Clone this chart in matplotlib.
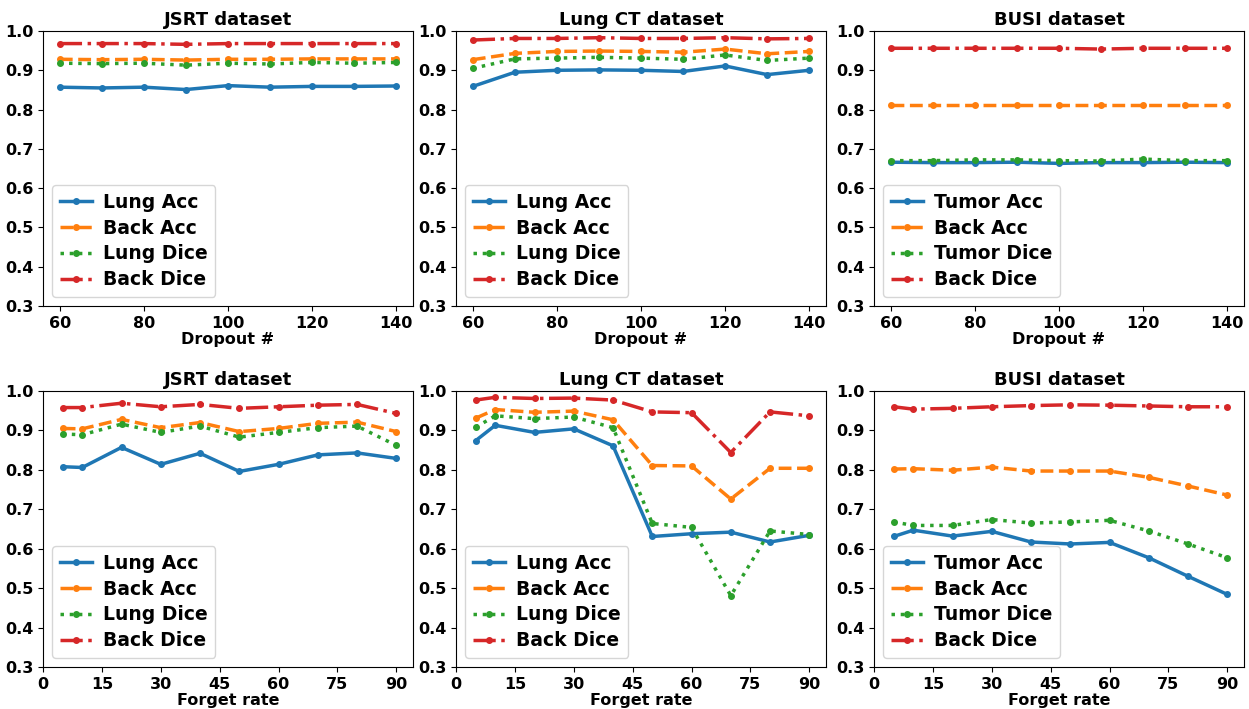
import matplotlib
matplotlib.use("Agg")
import matplotlib.pyplot as plt

plt.rcParams['font.family'] = ['DejaVu Sans']
plt.rcParams['font.weight'] = 'bold'
plt.rcParams['axes.labelweight'] = 'bold'
plt.rcParams['axes.titleweight'] = 'bold'

dropout = [60, 70, 80, 90, 100, 110, 120, 130, 140]
forget = [5, 10, 20, 30, 40, 50, 60, 70, 80, 90]

# Top row: Dropout #
jsrt_d_lung_acc = [0.857, 0.855, 0.857, 0.851, 0.861, 0.857, 0.859, 0.859, 0.860]
jsrt_d_back_acc = [0.928, 0.927, 0.928, 0.926, 0.928, 0.928, 0.929, 0.929, 0.929]
jsrt_d_lung_dice = [0.918, 0.917, 0.918, 0.913, 0.918, 0.916, 0.920, 0.918, 0.920]
jsrt_d_back_dice = [0.968, 0.968, 0.968, 0.966, 0.968, 0.968, 0.968, 0.968, 0.968]

ct_d_lung_acc = [0.859, 0.895, 0.900, 0.901, 0.900, 0.897, 0.911, 0.889, 0.900]
ct_d_back_acc = [0.927, 0.943, 0.948, 0.949, 0.948, 0.946, 0.954, 0.942, 0.948]
ct_d_lung_dice = [0.905, 0.929, 0.931, 0.933, 0.931, 0.928, 0.939, 0.925, 0.931]
ct_d_back_dice = [0.977, 0.981, 0.981, 0.983, 0.981, 0.981, 0.983, 0.980, 0.981]

busi_d_tumor_acc = [0.666, 0.665, 0.665, 0.666, 0.663, 0.665, 0.665, 0.666, 0.665]
busi_d_back_acc = [0.812, 0.812, 0.812, 0.812, 0.812, 0.812, 0.812, 0.812, 0.812]
busi_d_tumor_dice = [0.670, 0.670, 0.672, 0.672, 0.670, 0.669, 0.674, 0.670, 0.670]
busi_d_back_dice = [0.956, 0.956, 0.956, 0.956, 0.956, 0.954, 0.956, 0.956, 0.956]

# Bottom row: Forget rate
jsrt_f_lung_acc = [0.808, 0.806, 0.857, 0.814, 0.842, 0.796, 0.814, 0.838, 0.843, 0.829]
jsrt_f_back_acc = [0.905, 0.904, 0.928, 0.907, 0.920, 0.897, 0.905, 0.918, 0.921, 0.897]
jsrt_f_lung_dice = [0.891, 0.889, 0.916, 0.895, 0.911, 0.883, 0.895, 0.907, 0.911, 0.862]
jsrt_f_back_dice = [0.958, 0.958, 0.969, 0.960, 0.966, 0.956, 0.960, 0.964, 0.966, 0.943]

ct_f_lung_acc = [0.874, 0.913, 0.895, 0.904, 0.861, 0.631, 0.638, 0.642, 0.617, 0.634]
ct_f_back_acc = [0.931, 0.953, 0.946, 0.949, 0.927, 0.811, 0.810, 0.726, 0.804, 0.804]
ct_f_lung_dice = [0.908, 0.937, 0.930, 0.934, 0.907, 0.664, 0.654, 0.481, 0.645, 0.636]
ct_f_back_dice = [0.977, 0.984, 0.981, 0.982, 0.977, 0.947, 0.945, 0.844, 0.947, 0.937]

busi_f_tumor_acc = [0.631, 0.647, 0.632, 0.644, 0.617, 0.612, 0.616, 0.577, 0.530, 0.484]
busi_f_back_acc = [0.802, 0.803, 0.799, 0.807, 0.797, 0.797, 0.797, 0.781, 0.759, 0.736]
busi_f_tumor_dice = [0.668, 0.659, 0.659, 0.674, 0.665, 0.668, 0.672, 0.645, 0.612, 0.577]
busi_f_back_dice = [0.960, 0.954, 0.956, 0.960, 0.963, 0.965, 0.964, 0.962, 0.960, 0.960]

lung_labels = ['Lung Acc', 'Back Acc', 'Lung Dice', 'Back Dice']
tumor_labels = ['Tumor Acc', 'Back Acc', 'Tumor Dice', 'Back Dice']

W, H = 1249, 709
fig = plt.figure(figsize=(W / 100, H / 100), dpi=100)

lefts = [43, 456, 874]
width = 370
rows = [(31, 306), (391, 667)]

panels = [
    (0, 0, 'JSRT dataset', dropout, [jsrt_d_lung_acc, jsrt_d_back_acc, jsrt_d_lung_dice, jsrt_d_back_dice], lung_labels, 'Dropout #'),
    (0, 1, 'Lung CT dataset', dropout, [ct_d_lung_acc, ct_d_back_acc, ct_d_lung_dice, ct_d_back_dice], lung_labels, 'Dropout #'),
    (0, 2, 'BUSI dataset', dropout, [busi_d_tumor_acc, busi_d_back_acc, busi_d_tumor_dice, busi_d_back_dice], tumor_labels, 'Dropout #'),
    (1, 0, 'JSRT dataset', forget, [jsrt_f_lung_acc, jsrt_f_back_acc, jsrt_f_lung_dice, jsrt_f_back_dice], lung_labels, 'Forget rate'),
    (1, 1, 'Lung CT dataset', forget, [ct_f_lung_acc, ct_f_back_acc, ct_f_lung_dice, ct_f_back_dice], lung_labels, 'Forget rate'),
    (1, 2, 'BUSI dataset', forget, [busi_f_tumor_acc, busi_f_back_acc, busi_f_tumor_dice, busi_f_back_dice], tumor_labels, 'Forget rate'),
]

colors = ['#1f77b4', '#ff7f0e', '#2ca02c', '#d62728']
styles = ['-', '--', ':', '-.']

for r, c, title, x, series, labels, xlabel in panels:
    top, bot = rows[r]
    ax = fig.add_axes([lefts[c] / W, 1 - bot / H, width / W, (bot - top) / H])
    for s, lab, col, ls in zip(series, labels, colors, styles):
        ax.plot(x, s, linestyle=ls, color=col, marker='o', markersize=4, linewidth=2.5, label=lab)
    ax.set_ylim(0.3, 1.0)
    ax.set_yticks([0.3, 0.4, 0.5, 0.6, 0.7, 0.8, 0.9, 1.0])
    if r == 1:
        ax.set_xlim(left=0)
        ax.set_xticks([0, 15, 30, 45, 60, 75, 90])
    ax.tick_params(labelsize=11.5)
    for t in ax.get_xticklabels() + ax.get_yticklabels():
        t.set_fontweight('bold')
    ax.set_title(title, fontsize=13, fontweight='bold', pad=4)
    ax.set_xlabel(xlabel, fontsize=11.5, fontweight='bold', labelpad=1)
    ax.legend(loc='lower left', prop={'size': 13.5, 'weight': 'bold'},
              handlelength=1.7, handletextpad=0.6, labelspacing=0.36)

fig.savefig('out.png', dpi=100)
